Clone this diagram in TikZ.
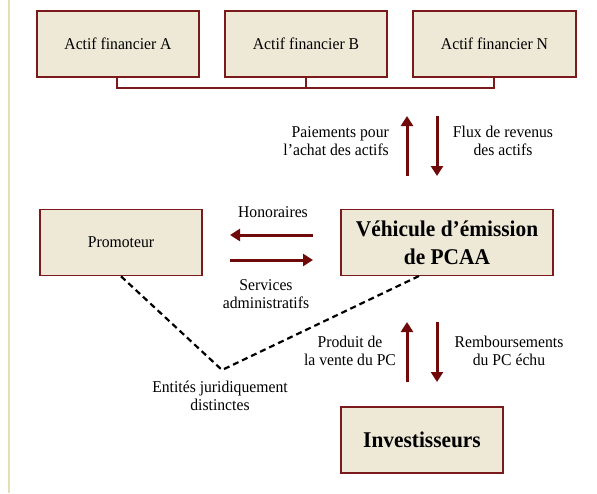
\documentclass[tikz,border=0pt]{standalone}
\usepackage{fontspec}
\setmainfont{Liberation Serif}[FakeStretch=0.95]
\usetikzlibrary{arrows.meta}
\definecolor{boxfill}{HTML}{EEE9D7}
\definecolor{boxline}{HTML}{7A1A1A}
\definecolor{arrowcol}{HTML}{6E0A0A}
\definecolor{sideline}{HTML}{E6DDB5}
\tikzset{
  box/.style={draw=boxline, fill=boxfill, line width=1.6pt, minimum width=162pt, minimum height=66pt, inner sep=0pt, align=center, font=\fontsize{16.5}{18}\selectfont},
  bigbox/.style={box, font=\fontsize{22.5}{28}\selectfont\bfseries},
  lbl/.style={align=center, inner sep=0pt, font=\fontsize{16.5}{18}\selectfont},
  flow/.style={draw=arrowcol, line width=3pt, -{Triangle[length=10pt,width=12pt]}},
  bus/.style={draw=boxline, line width=2.6pt},
  sep/.style={draw=black, line width=2.2pt, dash pattern=on 6pt off 4pt}
}
\begin{document}
\begin{tikzpicture}[x=1pt,y=-1pt]
\useasboundingbox (0,0) rectangle (597,493);
\draw[sideline, line width=2pt] (8.5,0) -- (8.5,493);
% top boxes
\node[box] (A) at (118,44) {Actif financier A};
\node[box] (B) at (306,44) {Actif financier B};
\node[box, minimum width=163pt] (N) at (494.5,44) {Actif financier N};
\coordinate (busA) at (117,88);
\coordinate (busB) at (306,88);
\coordinate (busN) at (494,88);
\draw[bus] (A.south -| busA) -- (busA) -- (busN) -- (N.south -| busN);
\draw[bus] (B.south) -- (busB);
% middle boxes
\node[box] (P) at (121,242.5) {Promoteur};
\node[bigbox, minimum width=212pt] (V) at (447,242.5) {Véhicule d’émission\\de PCAA};
\node[bigbox] (I) at (422,440) {Investisseurs};
% top arrows
\coordinate (u1s) at (407,176); \coordinate (u1e) at (407,116);
\coordinate (d1s) at (437,116); \coordinate (d1e) at (437,176);
\draw[flow] (u1s) -- (u1e);
\draw[flow] (d1s) -- (d1e);
\node[lbl, align=right, anchor=east] (pay) at (389,141) {Paiements pour\\l’achat des actifs};
\node[lbl] (flux) at (503,141) {Flux de revenus\\des actifs};
% horizontal arrows
\coordinate (h1s) at (313,235); \coordinate (h1e) at (230,235);
\coordinate (h2s) at (230,260); \coordinate (h2e) at (313,260);
\draw[flow] (h1s) -- (h1e);
\draw[flow] (h2s) -- (h2e);
\node[lbl] (hon) at (273,212) {Honoraires};
\node[lbl] (serv) at (266,294) {Services\\administratifs};
% bottom arrows
\coordinate (u2s) at (407,382); \coordinate (u2e) at (407,322);
\coordinate (d2s) at (437,322); \coordinate (d2e) at (437,382);
\draw[flow] (u2s) -- (u2e);
\draw[flow] (d2s) -- (d2e);
\node[lbl] (prod) at (350,351) {Produit de\\la vente du PC};
\node[lbl] (remb) at (509,351) {Remboursements\\du PC échu};
% dashed separation
\coordinate (vx) at (222,370);
\coordinate (vb) at (419,276);
\draw[sep] (P.south) -- (vx) -- (vb);
\node[lbl] (ent) at (220,396) {Entités juridiquement\\distinctes};
\end{tikzpicture}
\end{document}
